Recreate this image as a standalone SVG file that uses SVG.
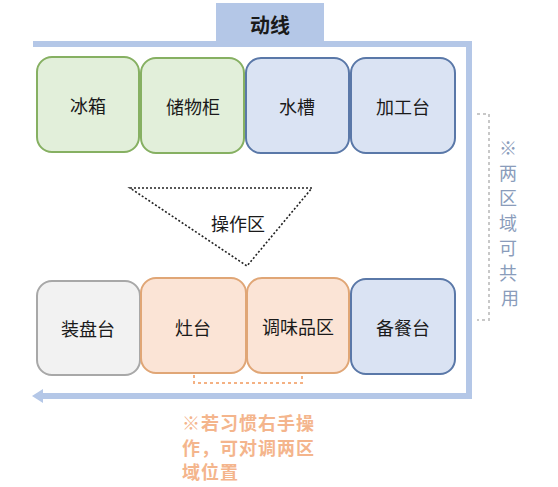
<svg xmlns="http://www.w3.org/2000/svg" width="558" height="487" viewBox="0 0 558 487">
<defs>
<style>
text{font-family:"Noto Sans CJK SC","Liberation Sans",sans-serif;}
.lbl{font-size:18px;fill:#1a1a1a;text-anchor:middle;dominant-baseline:central;}
.g rect{fill:#e2efda;stroke:#86b062;stroke-width:2;}
.b rect{fill:#dae3f3;stroke:#5a78a8;stroke-width:2;}
.o rect{fill:#fbe4d6;stroke:#e0a676;stroke-width:2;}
.n rect{fill:#f2f2f2;stroke:#a8a8a8;stroke-width:2;}
.flow{fill:none;stroke:#b4c7e7;stroke-width:6;stroke-linejoin:miter;}
</style>
<marker id="ah" viewBox="0 0 11 14" markerWidth="11" markerHeight="14" refX="0" refY="7" orient="auto" markerUnits="userSpaceOnUse">
<path d="M0,0 L11,7 L0,14 Z" fill="#b4c7e7"/>
</marker>
</defs>
<rect width="558" height="487" fill="#ffffff"/>
<g id="connectors">
<path class="flow" d="M33,44 H469 V396 H43" marker-end="url(#ah)"/>
</g>
<g id="title">
<rect x="216" y="3" width="108" height="39" fill="#b4c7e7"/>
<text x="270" y="24" class="lbl" style="font-size:20px;font-weight:bold;">动线</text>
</g>
<g id="n-fridge" class="g"><rect x="37" y="57" width="102" height="95" rx="15"/><text x="88" y="105" class="lbl">冰箱</text></g>
<g id="n-cabinet" class="g"><rect x="141" y="58" width="103" height="95" rx="15"/><text x="193" y="106" class="lbl">储物柜</text></g>
<g id="n-sink" class="b"><rect x="246" y="58" width="103" height="95" rx="15"/><text x="297" y="106" class="lbl">水槽</text></g>
<g id="n-prep" class="b"><rect x="351" y="58" width="104" height="95" rx="15"/><text x="403" y="106" class="lbl">加工台</text></g>
<g id="n-plating" class="n"><rect x="37" y="281" width="103" height="94" rx="15"/><text x="88" y="328" class="lbl">装盘台</text></g>
<g id="n-stove" class="o"><rect x="141" y="278" width="105" height="95" rx="15"/><text x="193" y="327" class="lbl">灶台</text></g>
<g id="n-season" class="o"><rect x="247" y="278" width="102" height="95" rx="15"/><text x="298" y="326" class="lbl">调味品区</text></g>
<g id="n-serve" class="b"><rect x="351" y="279" width="104" height="95" rx="15"/><text x="403" y="327" class="lbl">备餐台</text></g>
<g id="operate-zone">
<polygon points="130,188 312,188 247,266" fill="none" stroke="#222" stroke-width="1.6" stroke-dasharray="2,2"/>
<text x="238" y="223" class="lbl">操作区</text>
</g>
<g id="note-right">
<path d="M477,114 H489 V320 H477" fill="none" stroke="#c8c8c8" stroke-width="2" stroke-dasharray="3,3"/>
<text class="lbl" style="fill:#8a9cbb;font-size:18px;">
<tspan x="510" y="147">※</tspan>
<tspan x="510" y="172">两</tspan>
<tspan x="510" y="197">区</tspan>
<tspan x="510" y="222">域</tspan>
<tspan x="510" y="247">可</tspan>
<tspan x="510" y="272">共</tspan>
<tspan x="510" y="297">用</tspan>
</text>
</g>
<g id="note-bottom">
<path d="M194,375 V383 H302 V375" fill="none" stroke="#f4b183" stroke-width="2" stroke-dasharray="3,3"/>
<text style="font-size:18px;fill:#f4b58c;font-weight:bold;letter-spacing:1px;dominant-baseline:central;">
<tspan x="182" y="422">※若习惯右手操</tspan>
<tspan x="182" y="447">作，可对调两区</tspan>
<tspan x="182" y="471">域位置</tspan>
</text>
</g>
</svg>
